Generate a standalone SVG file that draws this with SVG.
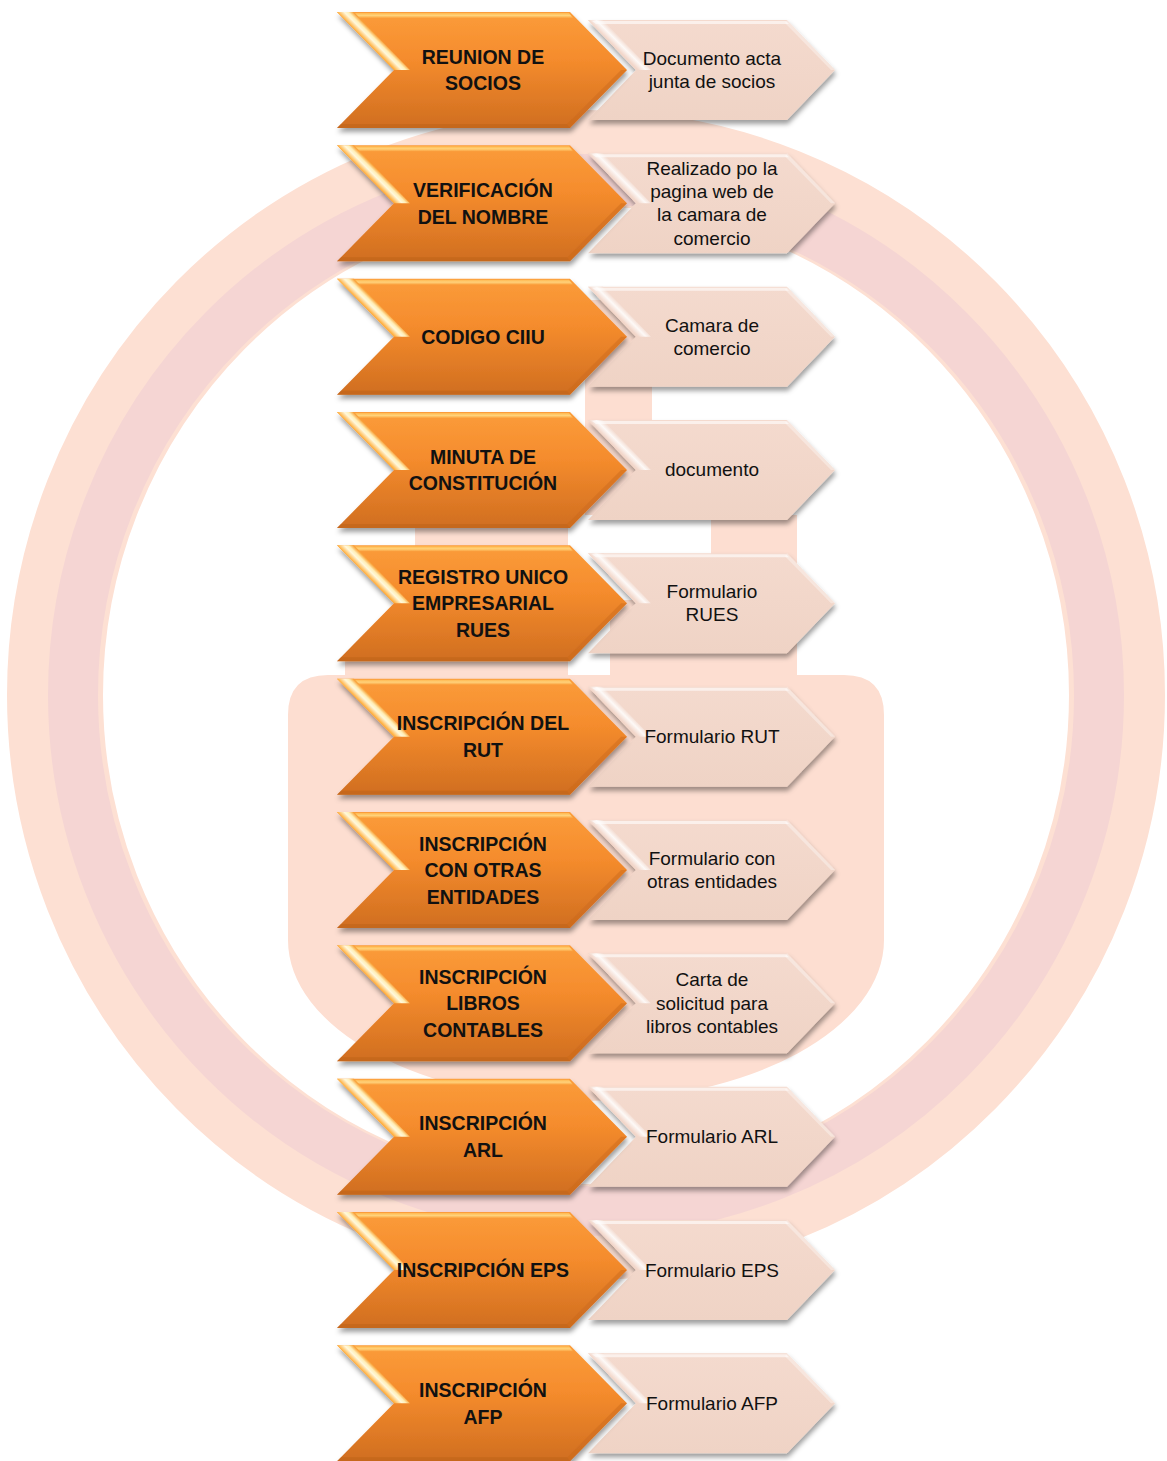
<svg xmlns="http://www.w3.org/2000/svg" xmlns:xlink="http://www.w3.org/1999/xlink" width="1167" height="1461" viewBox="0 0 1167 1461">
<style>
.st{font-family:"Liberation Sans",Arial,sans-serif;font-weight:bold;font-size:19.5px;fill:#111;text-anchor:middle}
.dt{font-family:"Liberation Sans",Arial,sans-serif;font-size:19px;fill:#111;text-anchor:middle}
.wm{fill:#FDDED1}
</style>
<defs>
<linearGradient id="og" x1="0" y1="0" x2="0" y2="1">
<stop offset="0" stop-color="#FB9C3A"/>
<stop offset="0.4" stop-color="#F58C2D"/>
<stop offset="1" stop-color="#D06E20"/>
</linearGradient>
<linearGradient id="otop" x1="0" y1="0" x2="0" y2="1">
<stop offset="0" stop-color="#FFB850"/>
<stop offset="0.5" stop-color="#FFD27A"/>
<stop offset="1" stop-color="#FBA23F"/>
</linearGradient>
<linearGradient id="obev" gradientUnits="userSpaceOnUse" x1="337" y1="0" x2="345" y2="-8">
<stop offset="0" stop-color="#FFB040"/>
<stop offset="0.45" stop-color="#FFF8DC"/>
<stop offset="0.7" stop-color="#FFEFB8"/>
<stop offset="1" stop-color="#F9A23A"/>
</linearGradient>
<linearGradient id="lg" x1="0" y1="0" x2="0" y2="1">
<stop offset="0" stop-color="#F4DACE"/>
<stop offset="1" stop-color="#EFD3C5"/>
</linearGradient>
<linearGradient id="lbev" gradientUnits="userSpaceOnUse" x1="588" y1="8" x2="596" y2="0">
<stop offset="0" stop-color="#F2D6C9"/>
<stop offset="0.5" stop-color="#FFFFFF"/>
<stop offset="1" stop-color="#F2D6C9"/>
</linearGradient>
<filter id="sh" x="-5%" y="-10%" width="115%" height="135%">
<feDropShadow dx="1" dy="4" stdDeviation="2.5" flood-color="#000" flood-opacity="0.38"/>
</filter>
<g id="oc">
<path d="M337,0 L570,0 L627,58 L570,116 L337,116 L394,58 Z" fill="url(#og)"/>
<path d="M339,1 L569,1 L573,6 L344,6 Z" fill="url(#otop)"/>
<path d="M337,0 L354,0 L410,58 L394,58 Z" fill="url(#obev)"/>
<path d="M570,116 L627,58 L621,58 L567,112 Z" fill="#C9691C" opacity="0.45"/>
<path d="M337,116 L570,116 L567,112 L341,112 Z" fill="#B65E18" opacity="0.4"/>
</g>
<g id="lc">
<path d="M588,8 L787,8 L835,58 L787,108 L588,108 L636,58 Z" fill="url(#lg)"/>
<path d="M588,8 L603,8 L651,58 L636,58 Z" fill="url(#lbev)" opacity="0.85"/>
<path d="M592,9 L786,9 L789,12 L596,12 Z" fill="#FFFFFF" opacity="0.6"/>
<path d="M787,8 L835,58 L831,58 L785,11 Z" fill="#FFFFFF" opacity="0.35"/>
</g>
</defs>
<rect x="0" y="0" width="1167" height="1461" fill="#FFFFFF"/>
<g id="watermark">
<ellipse cx="586" cy="695" rx="531" ry="537" fill="none" stroke="#FDE0D3" stroke-width="96"/>
<ellipse cx="586" cy="695" rx="513" ry="516" fill="none" stroke="#F5D5D3" stroke-width="50"/>
<path class="wm" d="M288,715 Q288,675 328,675 L844,675 Q884,675 884,715 L884,940 A296,160 0 0 1 288,940 Z"/>
<rect class="wm" x="585" y="300" width="67" height="215"/>
<rect class="wm" x="415" y="515" width="153" height="170"/>
<rect class="wm" x="345" y="655" width="80" height="30"/>
<rect class="wm" x="711" y="515" width="86" height="170"/>
<rect class="wm" x="610" y="600" width="110" height="85"/>
</g>
<g id="connectors"/>
<g id="row1" transform="translate(0,12)">
<g id="doc-1"><use xlink:href="#lc" filter="url(#sh)"/><text class="dt"><tspan x="712" y="52.85">Documento acta</tspan><tspan x="712" y="76.15">junta de socios</tspan></text></g>
<g id="step-1"><use xlink:href="#oc" filter="url(#sh)"/><text class="st"><tspan x="483" y="51.75">REUNION DE</tspan><tspan x="483" y="78.25">SOCIOS</tspan></text></g>
</g>
<g id="row2" transform="translate(0,145.3)">
<g id="doc-2"><use xlink:href="#lc" filter="url(#sh)"/><text class="dt"><tspan x="712" y="29.55">Realizado po la</tspan><tspan x="712" y="52.85">pagina web de</tspan><tspan x="712" y="76.15">la camara de</tspan><tspan x="712" y="99.45">comercio</tspan></text></g>
<g id="step-2"><use xlink:href="#oc" filter="url(#sh)"/><text class="st"><tspan x="483" y="51.75">VERIFICACIÓN</tspan><tspan x="483" y="78.25">DEL NOMBRE</tspan></text></g>
</g>
<g id="row3" transform="translate(0,278.7)">
<g id="doc-3"><use xlink:href="#lc" filter="url(#sh)"/><text class="dt"><tspan x="712" y="52.85">Camara de</tspan><tspan x="712" y="76.15">comercio</tspan></text></g>
<g id="step-3"><use xlink:href="#oc" filter="url(#sh)"/><text class="st"><tspan x="483" y="65">CODIGO CIIU</tspan></text></g>
</g>
<g id="row4" transform="translate(0,412)">
<g id="doc-4"><use xlink:href="#lc" filter="url(#sh)"/><text class="dt"><tspan x="712" y="64">documento</tspan></text></g>
<g id="step-4"><use xlink:href="#oc" filter="url(#sh)"/><text class="st"><tspan x="483" y="51.75">MINUTA DE</tspan><tspan x="483" y="78.25">CONSTITUCIÓN</tspan></text></g>
</g>
<g id="row5" transform="translate(0,545.3)">
<g id="doc-5"><use xlink:href="#lc" filter="url(#sh)"/><text class="dt"><tspan x="712" y="52.85">Formulario</tspan><tspan x="712" y="76.15">RUES</tspan></text></g>
<g id="step-5"><use xlink:href="#oc" filter="url(#sh)"/><text class="st"><tspan x="483" y="38.5">REGISTRO UNICO</tspan><tspan x="483" y="65">EMPRESARIAL</tspan><tspan x="483" y="91.5">RUES</tspan></text></g>
</g>
<g id="row6" transform="translate(0,678.7)">
<g id="doc-6"><use xlink:href="#lc" filter="url(#sh)"/><text class="dt"><tspan x="712" y="64.5">Formulario RUT</tspan></text></g>
<g id="step-6"><use xlink:href="#oc" filter="url(#sh)"/><text class="st"><tspan x="483" y="51.75">INSCRIPCIÓN DEL</tspan><tspan x="483" y="78.25">RUT</tspan></text></g>
</g>
<g id="row7" transform="translate(0,812)">
<g id="doc-7"><use xlink:href="#lc" filter="url(#sh)"/><text class="dt"><tspan x="712" y="52.85">Formulario con</tspan><tspan x="712" y="76.15">otras entidades</tspan></text></g>
<g id="step-7"><use xlink:href="#oc" filter="url(#sh)"/><text class="st"><tspan x="483" y="38.5">INSCRIPCIÓN</tspan><tspan x="483" y="65">CON OTRAS</tspan><tspan x="483" y="91.5">ENTIDADES</tspan></text></g>
</g>
<g id="row8" transform="translate(0,945.3)">
<g id="doc-8"><use xlink:href="#lc" filter="url(#sh)"/><text class="dt"><tspan x="712" y="41.2">Carta de</tspan><tspan x="712" y="64.5">solicitud para</tspan><tspan x="712" y="87.8">libros contables</tspan></text></g>
<g id="step-8"><use xlink:href="#oc" filter="url(#sh)"/><text class="st"><tspan x="483" y="38.5">INSCRIPCIÓN</tspan><tspan x="483" y="65">LIBROS</tspan><tspan x="483" y="91.5">CONTABLES</tspan></text></g>
</g>
<g id="row9" transform="translate(0,1078.7)">
<g id="doc-9"><use xlink:href="#lc" filter="url(#sh)"/><text class="dt"><tspan x="712" y="64.5">Formulario ARL</tspan></text></g>
<g id="step-9"><use xlink:href="#oc" filter="url(#sh)"/><text class="st"><tspan x="483" y="51.75">INSCRIPCIÓN</tspan><tspan x="483" y="78.25">ARL</tspan></text></g>
</g>
<g id="row10" transform="translate(0,1212)">
<g id="doc-10"><use xlink:href="#lc" filter="url(#sh)"/><text class="dt"><tspan x="712" y="64.5">Formulario EPS</tspan></text></g>
<g id="step-10"><use xlink:href="#oc" filter="url(#sh)"/><text class="st"><tspan x="483" y="65">INSCRIPCIÓN EPS</tspan></text></g>
</g>
<g id="row11" transform="translate(0,1345.3)">
<g id="doc-11"><use xlink:href="#lc" filter="url(#sh)"/><text class="dt"><tspan x="712" y="64.5">Formulario AFP</tspan></text></g>
<g id="step-11"><use xlink:href="#oc" filter="url(#sh)"/><text class="st"><tspan x="483" y="51.75">INSCRIPCIÓN</tspan><tspan x="483" y="78.25">AFP</tspan></text></g>
</g>
</svg>
